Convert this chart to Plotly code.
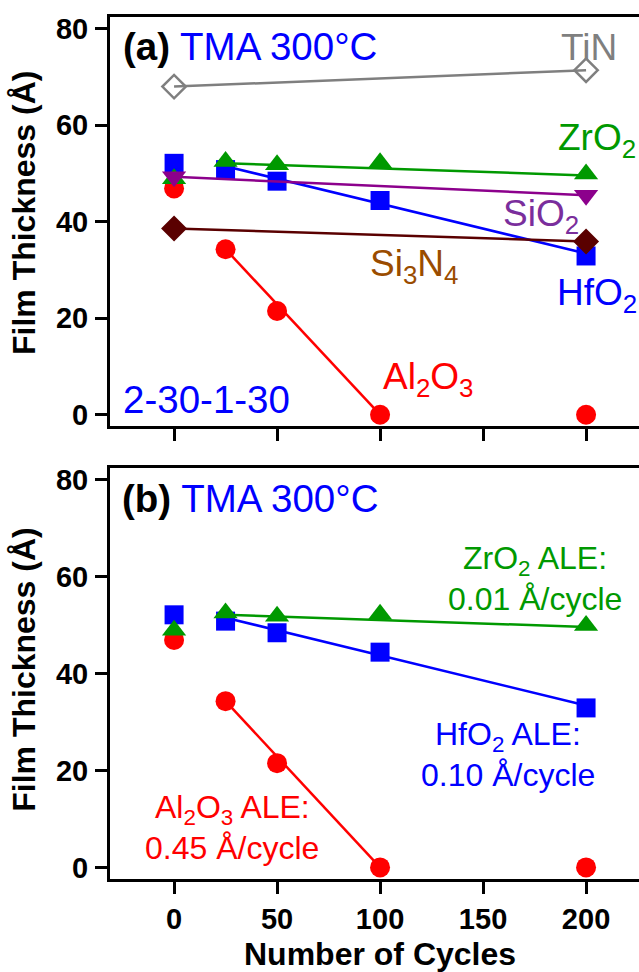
import plotly.graph_objects as go

# ---------------- data ----------------
cycles = [0, 25, 50, 100, 200]
al2o3 = [46.9, 34.3, 21.5, 0.0, 0.0]
hfo2 = [52.1, 50.8, 48.4, 44.4, 32.9]
zro2 = [48.9, 52.5, 51.8, 52.2, 49.9]

two_pt_cycles = [0, 200]
tin = [68.0, 71.4]
sio2 = [49.3, 45.5]
si3n4 = [38.6, 35.9]

# linear-fit (ALE rate) lines
al2o3_fit_x = [25, 100]
al2o3_fit_y = [34.3, 0.0]
hfo2_fit_x = [25, 200]
hfo2_fit_y = [51.5, 33.4]
zro2_fit_x = [25, 200]
zro2_fit_y = [52.1, 49.6]

x_ticks = [0, 50, 100, 150, 200]
y_ticks = [0, 20, 40, 60, 80]

# ---------------- style ----------------
BLUE = "#0000FF"
RED = "#FF0000"
GREEN = "#009900"
PURPLE = "#8C008C"
PURPLE_TXT = "#7A2E9C"
MAROON = "#5A0000"
BROWN_TXT = "#9A4C00"
GRAY = "#7F7F7F"
FONT = "Liberation Sans, Arial, sans-serif"

W, H = 639, 972
fig = go.Figure()


def add(trace, panel):
    if panel == "a":
        trace.update(xaxis="x", yaxis="y")
    else:
        trace.update(xaxis="x2", yaxis="y2")
    fig.add_trace(trace)


LW = 2.5
for p in ["a", "b"]:
    if p == "a":
        add(go.Scatter(x=two_pt_cycles, y=tin, mode="lines+markers",
                       line=dict(color=GRAY, width=LW),
                       marker=dict(symbol="diamond-open", size=18, color=GRAY,
                                   line=dict(width=2.5, color=GRAY))), p)
    add(go.Scatter(x=al2o3_fit_x, y=al2o3_fit_y, mode="lines",
                   line=dict(color=RED, width=LW)), p)
    add(go.Scatter(x=cycles, y=al2o3, mode="markers",
                   marker=dict(symbol="circle", size=20, color=RED)), p)
    add(go.Scatter(x=cycles, y=hfo2, mode="markers",
                   marker=dict(symbol="square", size=19, color=BLUE)), p)
    add(go.Scatter(x=hfo2_fit_x, y=hfo2_fit_y, mode="lines",
                   line=dict(color=BLUE, width=LW)), p)
    add(go.Scatter(x=zro2_fit_x, y=zro2_fit_y, mode="lines",
                   line=dict(color=GREEN, width=LW)), p)
    add(go.Scatter(x=cycles, y=zro2, mode="markers",
                   marker=dict(symbol="triangle-up", size=21, color=GREEN)), p)
    if p == "a":
        add(go.Scatter(x=two_pt_cycles, y=sio2, mode="lines+markers",
                       line=dict(color=PURPLE, width=LW),
                       marker=dict(symbol="triangle-down", size=21, color=PURPLE)), p)
        add(go.Scatter(x=two_pt_cycles, y=si3n4, mode="lines+markers",
                       line=dict(color=MAROON, width=LW),
                       marker=dict(symbol="diamond", size=20, color=MAROON)), p)

XD = [110 / W, 1.0]
XR = [-31.1, 225.7]
YR = [-2.35, 82.45]

axis_common = dict(showline=True, linewidth=3, linecolor="black",
                   ticks="outside", ticklen=12, tickwidth=2.5, tickcolor="black",
                   showgrid=False, zeroline=False,
                   tickfont=dict(family=FONT, size=29, color="black", weight="bold"))

fig.update_layout(
    width=W, height=H, margin=dict(l=0, r=0, t=0, b=0),
    paper_bgcolor="white", plot_bgcolor="white", showlegend=False,
    xaxis=dict(domain=XD, range=XR, tickvals=x_ticks, showticklabels=False,
               mirror=True, anchor="y", **axis_common),
    yaxis=dict(domain=[1 - 426 / H, 1 - 13 / H], range=YR, tickvals=y_ticks,
               anchor="x", ticklabelstandoff=1, **axis_common),
    xaxis2=dict(domain=XD, range=XR, tickvals=x_ticks, mirror=True, anchor="y2",
                ticklabelstandoff=0, **axis_common),
    yaxis2=dict(domain=[1 - 883 / H, 1 - 468 / H], range=YR, tickvals=y_ticks,
                anchor="x2", ticklabelstandoff=1, **axis_common),
)


def ann(text, px, py, color, size, xanchor="left", bold=False, angle=0):
    fig.add_annotation(
        text=text, x=px / W, y=1 - py / H, xref="paper", yref="paper",
        xanchor=xanchor, yanchor="middle", showarrow=False, textangle=angle,
        font=dict(family=FONT, size=size, color=color,
                  weight="bold" if bold else "normal"))


BIG = 38.5
MID = 37
SM = 32
# panel (a)
ann("<b>(a)</b> <span style='color:%s'>TMA 300°C</span>" % BLUE, 121, 43, "black", BIG)
ann("TiN", 559, 44, GRAY, MID)
ann("ZrO<sub>2</sub>", 556, 137, GREEN, MID)
ann("SiO<sub>2</sub>", 501, 214, PURPLE_TXT, MID)
ann("HfO<sub>2</sub>", 555, 294, BLUE, MID)
ann("Si<sub>3</sub>N<sub>4</sub>", 368, 264, BROWN_TXT, MID)
ann("Al<sub>2</sub>O<sub>3</sub>", 381, 379, RED, MID)
ann("2-30-1-30", 121, 399, BLUE, BIG)
# panel (b)
ann("<b>(b)</b> <span style='color:%s'>TMA 300°C</span>" % BLUE, 120, 499, "black", BIG)
ann("ZrO<sub>2</sub> ALE:", 535, 562, GREEN, SM, xanchor="center")
ann("0.01 Å/cycle", 535, 601, GREEN, SM, xanchor="center")
ann("HfO<sub>2</sub> ALE:", 508, 739, BLUE, SM, xanchor="center")
ann("0.10 Å/cycle", 508, 778, BLUE, SM, xanchor="center")
ann("Al<sub>2</sub>O<sub>3</sub> ALE:", 232, 813, RED, SM, xanchor="center")
ann("0.45 Å/cycle", 232, 852, RED, SM, xanchor="center")
# axis titles
ann("Film Thickness (Å)", 24, 211, "black", 32, xanchor="center", bold=True, angle=-90)
ann("Film Thickness (Å)", 24, 672, "black", 32, xanchor="center", bold=True, angle=-90)
ann("Number of Cycles", 380, 959, "black", 32, xanchor="center", bold=True)

fig.write_html("out.html")
